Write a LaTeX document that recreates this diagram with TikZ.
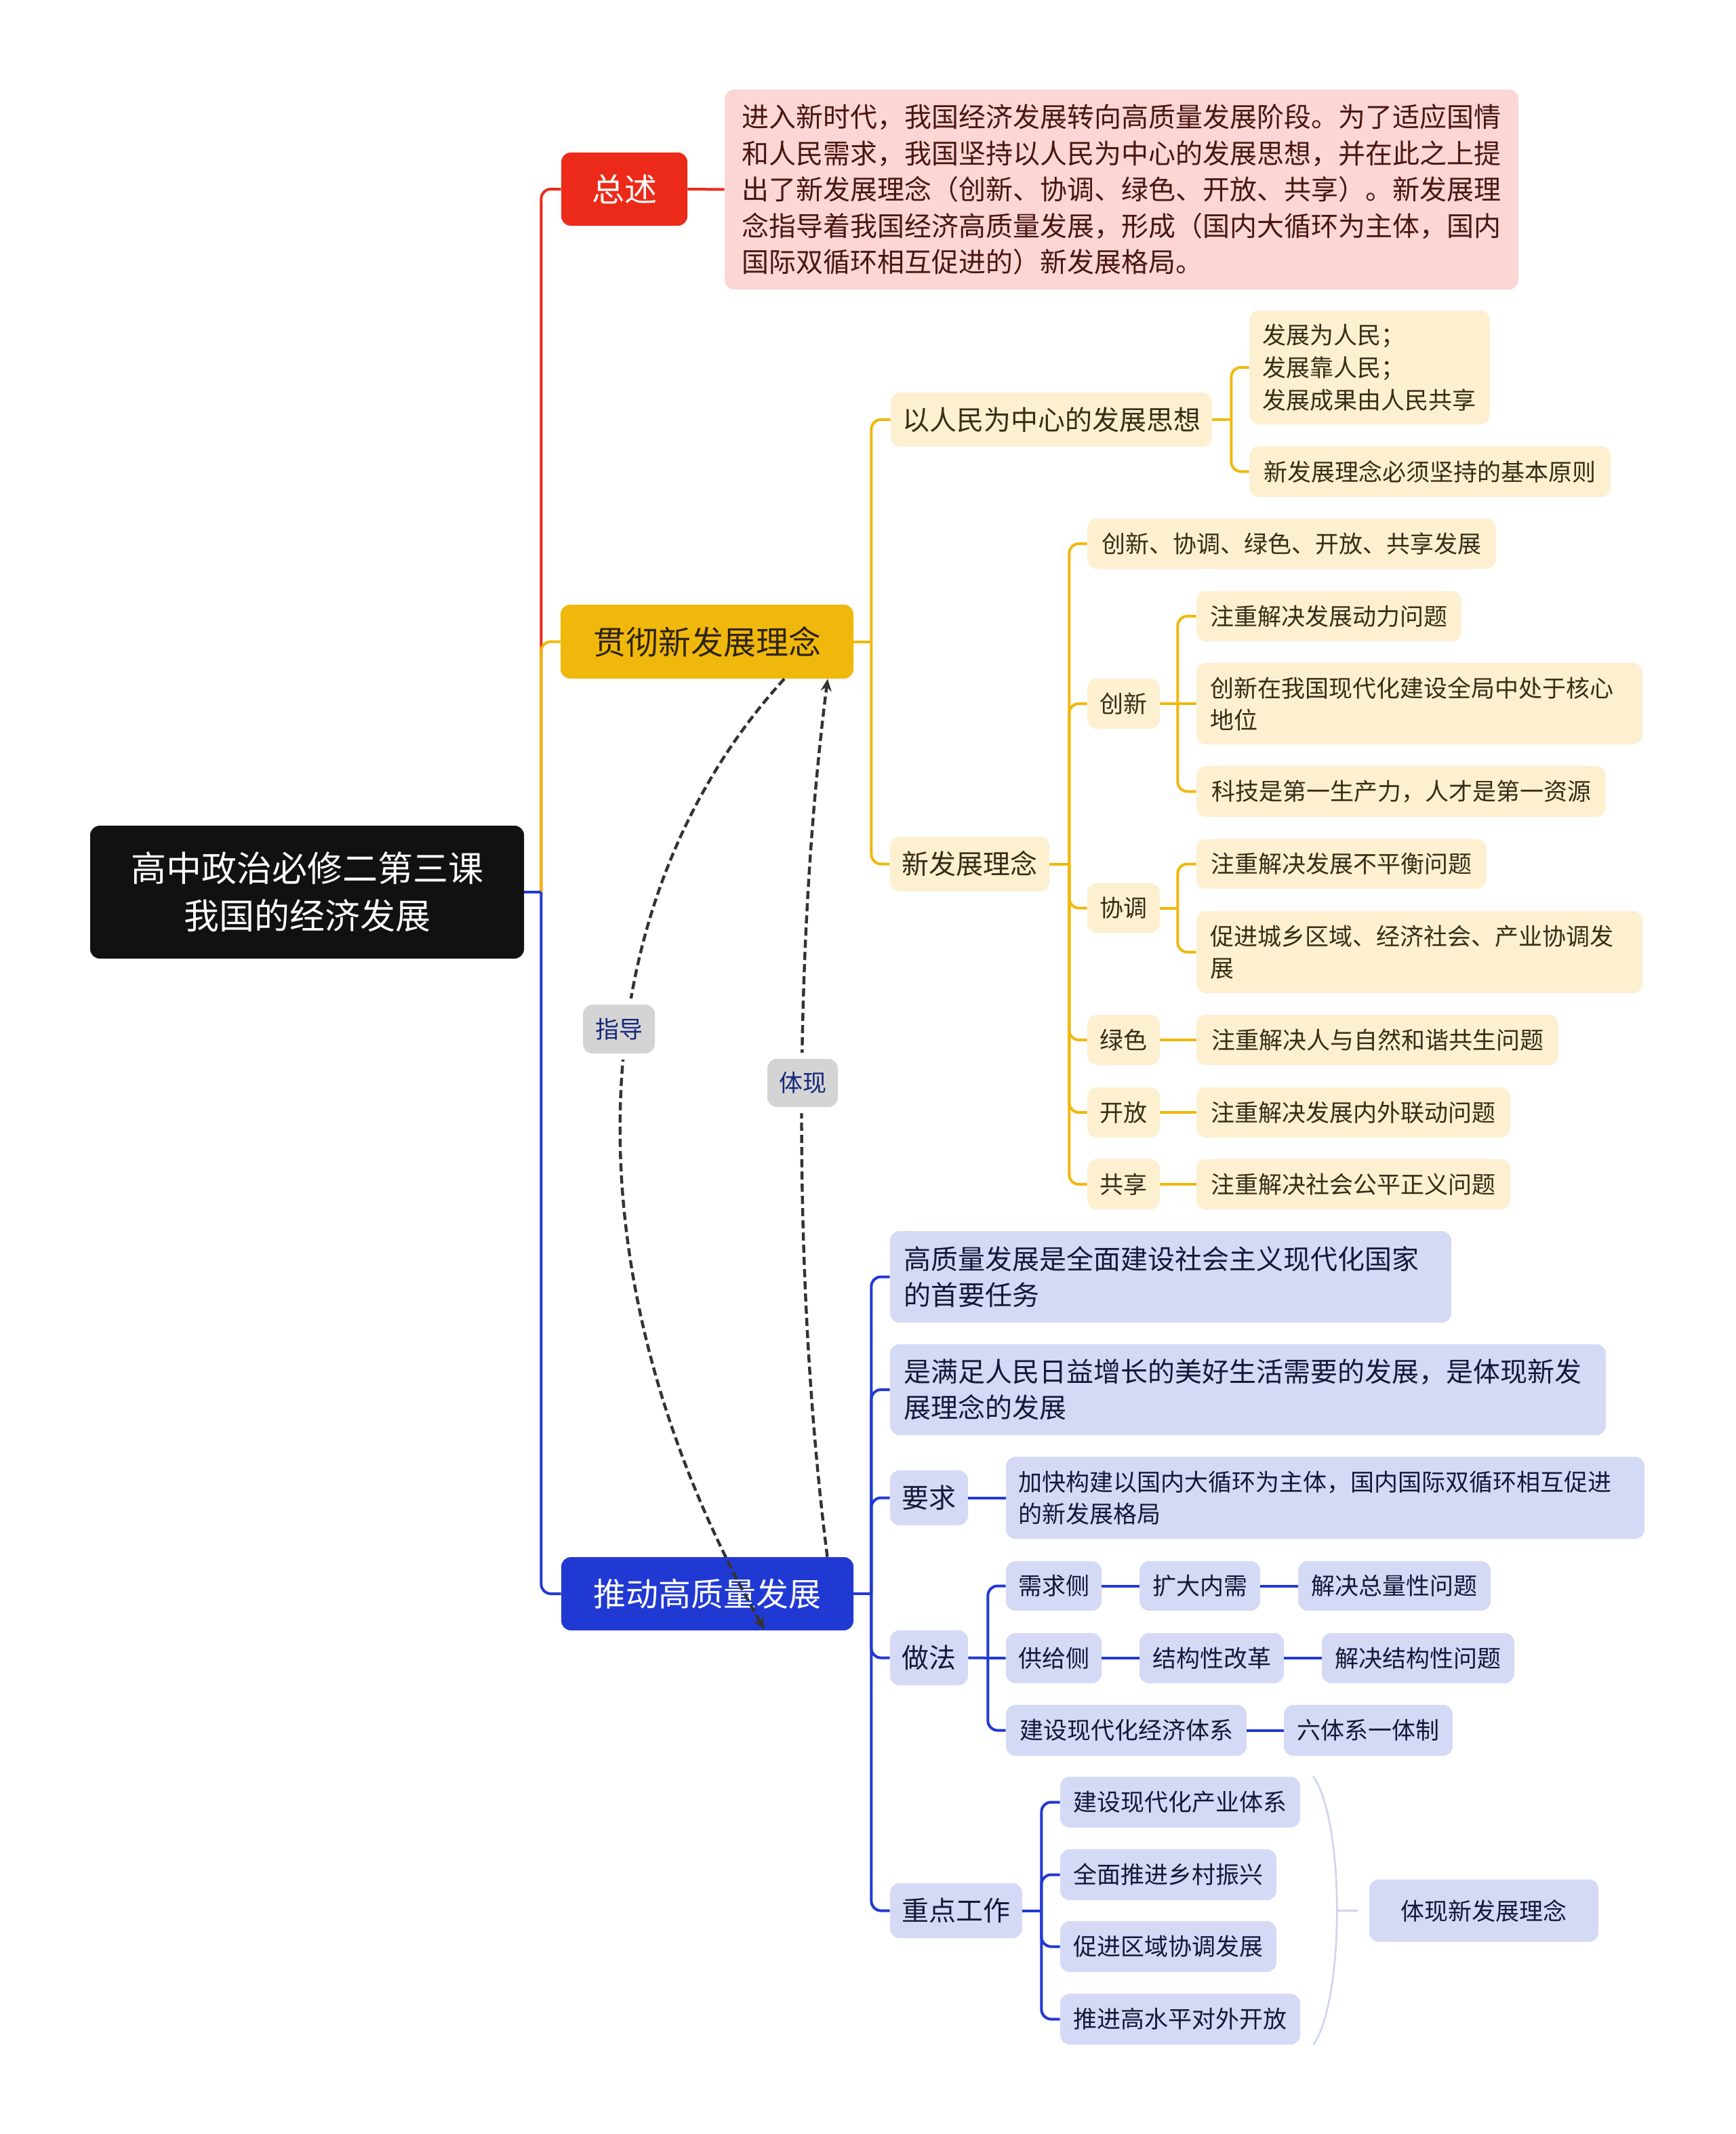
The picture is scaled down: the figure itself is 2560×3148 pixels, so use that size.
\documentclass[tikz,border=0pt]{standalone}
\usepackage{fontspec}
\setmainfont{Noto Sans CJK SC}
\usetikzlibrary{arrows.meta}
\definecolor{redc}{HTML}{EC2A19}
\definecolor{yelc}{HTML}{F0B80C}
\definecolor{bluc}{HTML}{2139D3}
\definecolor{rootc}{HTML}{111111}
\definecolor{pinkc}{HTML}{FBD6D4}
\definecolor{ptxt}{HTML}{4A1610}
\definecolor{lyel}{HTML}{FCF0D0}
\definecolor{ytxt}{HTML}{372D17}
\definecolor{gctxt}{HTML}{2E2410}
\definecolor{lblu}{HTML}{D4DAF6}
\definecolor{btxt}{HTML}{141838}
\definecolor{labg}{HTML}{D4D4D4}
\definecolor{labt}{HTML}{17287A}
\definecolor{brkc}{HTML}{CDD3F2}
\definecolor{dashc}{HTML}{333333}
\tikzset{
  box/.style={rounded corners=7pt, inner sep=0pt, align=center},
  lone/.style={box, font=\fontsize{24pt}{30pt}\selectfont},
  ly/.style={box, fill=lyel, text=ytxt},
  lb/.style={box, fill=lblu, text=btxt},
  ftw/.style={font=\fontsize{20pt}{26.5pt}\selectfont},
  fsv/.style={font=\fontsize{17.5pt}{23.5pt}\selectfont},
  lw/.style={line width=2pt},
  conn/.style={lw, rounded corners=7pt},
  darrow/.style={dashc, line width=2.2pt, dash pattern=on 6pt off 3pt, -{Stealth[length=9pt,width=8pt]}},
  lab/.style={box, fill=labg, text=labt, font=\fontsize{17.5pt}{20pt}\selectfont, preaction={draw=white, line width=9pt}},
  brk/.style={brkc, line width=1.3pt},
}
\begin{document}
\begin{tikzpicture}[x=0.5pt,y=-0.5pt]
\useasboundingbox (0,0) rectangle (2560,3148);
\fill[white] (0,0) rectangle (2560,3148);

% ---------- nodes ----------
\node[box, fill=rootc, text=white, font=\fontsize{26pt}{35pt}\selectfont, minimum width=320pt, minimum height=98pt] (root) at (453,1316) {高中政治必修二第三课\\我国的经济发展};

\node[lone, fill=redc, text=white, minimum width=93pt, minimum height=54pt] (zs) at (921,279) {总述};
\node[box, fill=pinkc, text=ptxt, font=\fontsize{20pt}{26.75pt}\selectfont, align=left, text width=560pt, minimum width=585.5pt, minimum height=147.5pt] (zsd) at (1654.5,279.5) {进入新时代，我国经济发展转向高质量发展阶段。为了适应国情\\和人民需求，我国坚持以人民为中心的发展思想，并在此之上提\\出了新发展理念（创新、协调、绿色、开放、共享）。新发展理\\念指导着我国经济高质量发展，形成（国内大循环为主体，国内\\国际双循环相互促进的）新发展格局。};

\node[lone, fill=yelc, text=gctxt, minimum width=216pt, minimum height=54.5pt] (gc) at (1043,946.5) {贯彻新发展理念};
\node[lone, fill=bluc, text=white, minimum width=215.5pt, minimum height=54pt] (td) at (1043.5,2351) {推动高质量发展};

% yellow branch
\node[ly, ftw, minimum width=237pt, minimum height=40pt] (rm) at (1551,619) {以人民为中心的发展思想};
\node[ly, ftw, minimum width=117.5pt, minimum height=40.5pt] (xf) at (1430.5,1274.5) {新发展理念};
\node[ly, font=\fontsize{17.5pt}{24pt}\selectfont, align=left, text width=158pt, minimum width=177.5pt, minimum height=84pt] (rmone) at (2020.5,542) {发展为人民；\\发展靠人民；\\发展成果由人民共享};
\node[ly, fsv, minimum width=266.5pt, minimum height=37.5pt] (rmtwo) at (2109.5,695.5) {新发展理念必须坚持的基本原则};
\node[ly, fsv, minimum width=301.5pt, minimum height=37pt] (xfone) at (1905.5,802) {创新、协调、绿色、开放、共享发展};
\node[ly, fsv, minimum width=53.5pt, minimum height=37pt] (cx) at (1657.5,1038) {创新};
\node[ly, fsv, minimum width=195.5pt, minimum height=37pt] (cxone) at (1960.5,909) {注重解决发展动力问题};
\node[ly, fsv, align=left, text width=309pt, minimum width=329pt, minimum height=60pt] (cxtwo) at (2094,1038) {创新在我国现代化建设全局中处于核心\\地位};
\node[ly, fsv, minimum width=302pt, minimum height=37.5pt] (cxthree) at (2067,1167.5) {科技是第一生产力，人才是第一资源};
\node[ly, fsv, minimum width=53.5pt, minimum height=36.5pt] (xt) at (1657.5,1339.5) {协调};
\node[ly, fsv, minimum width=214pt, minimum height=36.5pt] (xtone) at (1979,1274.5) {注重解决发展不平衡问题};
\node[ly, fsv, align=left, text width=309pt, minimum width=329pt, minimum height=60.5pt] (xttwo) at (2094,1404.5) {促进城乡区域、经济社会、产业协调发\\展};
\node[ly, fsv, minimum width=53.5pt, minimum height=37pt] (ls) at (1657.5,1534) {绿色};
\node[ly, fsv, minimum width=267pt, minimum height=37pt] (lsone) at (2032,1534) {注重解决人与自然和谐共生问题};
\node[ly, fsv, minimum width=53.5pt, minimum height=37pt] (kf) at (1657.5,1641) {开放};
\node[ly, fsv, minimum width=231.5pt, minimum height=37pt] (kfone) at (1996.5,1641) {注重解决发展内外联动问题};
\node[ly, fsv, minimum width=53.5pt, minimum height=37pt] (gx) at (1657.5,1747) {共享};
\node[ly, fsv, minimum width=231.5pt, minimum height=37pt] (gxone) at (1996.5,1747) {注重解决社会公平正义问题};

% blue branch
\node[lb, ftw, align=left, text width=394pt, minimum width=414pt, minimum height=67.5pt] (bone) at (1727,1883.5) {高质量发展是全面建设社会主义现代化国家\\的首要任务};
\node[lb, ftw, align=left, text width=508pt, minimum width=528pt, minimum height=67pt] (btwo) at (1841,2050) {是满足人民日益增长的美好生活需要的发展，是体现新发\\展理念的发展};
\node[lb, ftw, minimum width=57.5pt, minimum height=40.5pt] (yq) at (1370.5,2209.5) {要求};
\node[lb, fsv, align=left, text width=453pt, minimum width=471pt, minimum height=60.5pt] (yqone) at (1955,2209.5) {加快构建以国内大循环为主体，国内国际双循环相互促进\\的新发展格局};
\node[lb, ftw, minimum width=57.5pt, minimum height=40.5pt] (zf) at (1370.5,2445.5) {做法};
\node[lb, fsv, minimum width=70.5pt, minimum height=36.5pt] (xq) at (1554.5,2339.5) {需求侧};
\node[lb, fsv, minimum width=89pt, minimum height=36.5pt] (kd) at (1770,2339.5) {扩大内需};
\node[lb, fsv, minimum width=142pt, minimum height=36.5pt] (zl) at (2057,2339.5) {解决总量性问题};
\node[lb, fsv, minimum width=70.5pt, minimum height=37pt] (gj) at (1554.5,2446) {供给侧};
\node[lb, fsv, minimum width=106.5pt, minimum height=37pt] (jg) at (1787.5,2446) {结构性改革};
\node[lb, fsv, minimum width=142pt, minimum height=37pt] (jj) at (2092,2446) {解决结构性问题};
\node[lb, fsv, minimum width=177.5pt, minimum height=37.5pt] (js) at (1661.5,2552.5) {建设现代化经济体系};
\node[lb, fsv, minimum width=124.5pt, minimum height=37.5pt] (lt) at (2018.5,2552.5) {六体系一体制};
\node[lb, ftw, minimum width=97.5pt, minimum height=40.5pt] (zd) at (1410.5,2818.5) {重点工作};
\node[lb, fsv, minimum width=177pt, minimum height=37.5pt] (zdone) at (1741,2658.5) {建设现代化产业体系};
\node[lb, fsv, minimum width=159.5pt, minimum height=37.5pt] (zdtwo) at (1723.5,2765.5) {全面推进乡村振兴};
\node[lb, fsv, minimum width=159.5pt, minimum height=37.5pt] (zdthree) at (1723.5,2871.5) {促进区域协调发展};
\node[lb, fsv, minimum width=177pt, minimum height=37.5pt] (zdfour) at (1741,2978.5) {推进高水平对外开放};
\node[lb, fsv, minimum width=169pt, minimum height=46pt] (tx) at (2189,2818.5) {体现新发展理念};

% ---------- connectors ----------
% root branches
\draw[redc, conn] (root.east) ++(12.5pt,0) |- (zs.west);
\draw[redc, lw] (zs.east) -- (zsd.west);
\draw[yelc, conn] (root.east) ++(12.5pt,0) |- (gc.west);
\draw[bluc, conn] (root.east) ++(12.5pt,0) |- (td.west);
\draw[bluc, lw] (root.east) -- ++(12.5pt,0);

% yellow
\draw[yelc, lw] (gc.east) -- ++(13pt,0);
\draw[yelc, conn] (gc.east) ++(13pt,0) |- (rm.west);
\draw[yelc, conn] (gc.east) ++(13pt,0) |- (xf.west);
\draw[yelc, lw] (rm.east) -- ++(14pt,0);
\draw[yelc, conn] (rm.east) ++(14pt,0) |- (rmone.west);
\draw[yelc, conn] (rm.east) ++(14pt,0) |- (rmtwo.west);
\draw[yelc, lw] (xf.east) -- ++(14.5pt,0);
\draw[yelc, conn] (xf.east) ++(14.5pt,0) |- (xfone.west);
\draw[yelc, conn] (xf.east) ++(14.5pt,0) |- (cx.west);
\draw[yelc, conn] (xf.east) ++(14.5pt,0) |- (xt.west);
\draw[yelc, conn] (xf.east) ++(14.5pt,0) |- (ls.west);
\draw[yelc, conn] (xf.east) ++(14.5pt,0) |- (kf.west);
\draw[yelc, conn] (xf.east) ++(14.5pt,0) |- (gx.west);
\draw[yelc, lw] (cx.east) -- (cxtwo.west);
\draw[yelc, conn] (cx.east) ++(13pt,0) |- (cxone.west);
\draw[yelc, conn] (cx.east) ++(13pt,0) |- (cxthree.west);
\draw[yelc, lw] (xt.east) -- ++(13pt,0);
\draw[yelc, conn] (xt.east) ++(13pt,0) |- (xtone.west);
\draw[yelc, conn] (xt.east) ++(13pt,0) |- (xttwo.west);
\draw[yelc, lw] (ls.east) -- (lsone.west);
\draw[yelc, lw] (kf.east) -- (kfone.west);
\draw[yelc, lw] (gx.east) -- (gxone.west);

% blue
\draw[bluc, lw] (td.east) -- ++(13pt,0);
\draw[bluc, conn] (td.east) ++(13pt,0) |- (bone.west);
\draw[bluc, conn] (td.east) ++(13pt,0) |- (btwo.west);
\draw[bluc, conn] (td.east) ++(13pt,0) |- (yq.west);
\draw[bluc, conn] (td.east) ++(13pt,0) |- (zf.west);
\draw[bluc, conn] (td.east) ++(13pt,0) |- (zd.west);
\draw[bluc, lw] (yq.east) -- (yqone.west);
\draw[bluc, lw] (zf.east) -- (gj.west);
\draw[bluc, conn] (zf.east) ++(14.5pt,0) |- (xq.west);
\draw[bluc, conn] (zf.east) ++(14.5pt,0) |- (js.west);
\draw[bluc, lw] (xq.east) -- (kd.west);
\draw[bluc, lw] (kd.east) -- (zl.west);
\draw[bluc, lw] (gj.east) -- (jg.west);
\draw[bluc, lw] (jg.east) -- (jj.west);
\draw[bluc, lw] (js.east) -- (lt.west);
\draw[bluc, lw] (zd.east) -- ++(14pt,0);
\draw[bluc, conn] (zd.east) ++(14pt,0) |- (zdone.west);
\draw[bluc, conn] (zd.east) ++(14pt,0) |- (zdtwo.west);
\draw[bluc, conn] (zd.east) ++(14pt,0) |- (zdthree.west);
\draw[bluc, conn] (zd.east) ++(14pt,0) |- (zdfour.west);

% summary bracket
\coordinate (brtop) at ([xshift=9.5pt]zdone.north east);
\coordinate (brbot) at ([xshift=9.5pt]zdfour.south east);
\draw[brk] (brtop) .. controls (1984,2687) and (1984,2950) .. (brbot);
\draw[brk] ([xshift=-8.5pt]tx.west) -- ++(-15.5pt,0);

% relation arrows
\coordinate (gstart) at ([xshift=57pt]gc.south);
\coordinate (gend) at ([xshift=42pt, yshift=1pt]td.south);
\coordinate (tstart) at ([xshift=88.5pt]td.north);
\coordinate (tend) at ([xshift=89pt]gc.south);
\draw[darrow] (gstart) .. controls (840,1350) and (840,1900) .. (gend);
\draw[darrow] (tstart) .. controls (1170,1900) and (1170,1400) .. (tend);

\node[lab, minimum width=53pt, minimum height=36pt] (zdao) at (913,1518) {指导};
\node[lab, minimum width=52pt, minimum height=35.5pt] (tix) at (1184,1597.5) {体现};
\end{tikzpicture}
\end{document}
